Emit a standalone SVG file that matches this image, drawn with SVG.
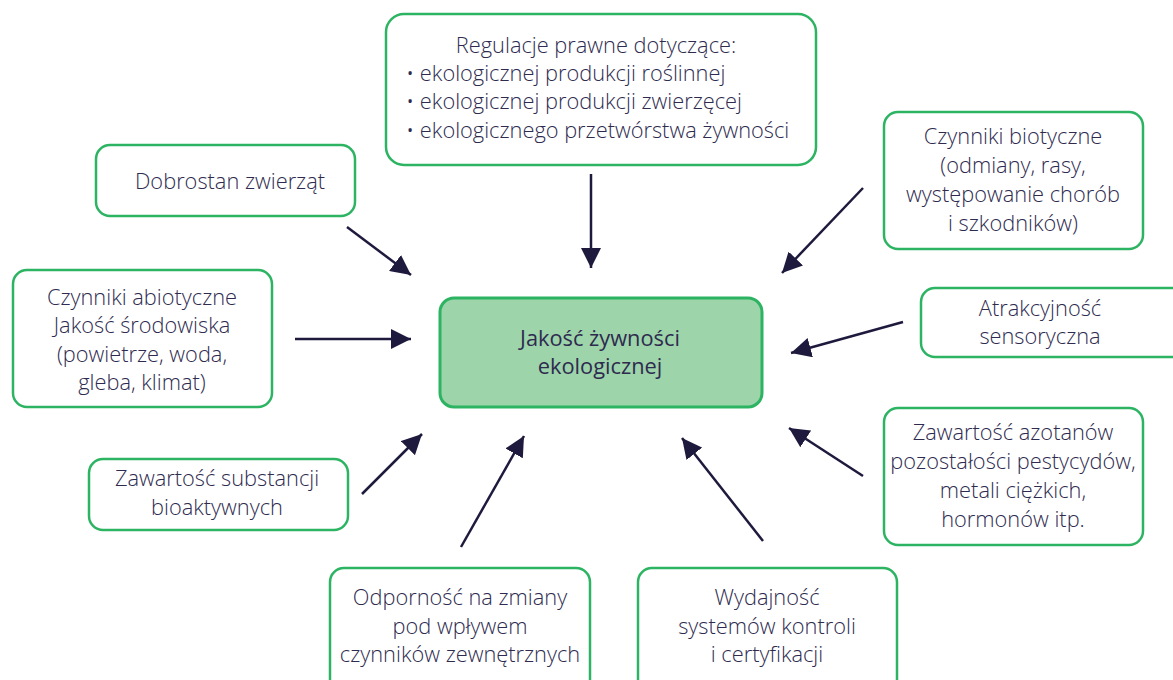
<svg xmlns="http://www.w3.org/2000/svg" width="1173" height="680" viewBox="0 0 1173 680">
<defs>
<marker id="ah" viewBox="0 0 10 10" refX="10" refY="5" markerWidth="8" markerHeight="8" markerUnits="strokeWidth" orient="auto">
<path d="M0,0 L10,5 L0,10 z" fill="#1e1a3d"/>
</marker>
</defs>
<style>
.box{fill:#fff;stroke:#2db463;stroke-width:2.5}
.main{fill:#9dd4aa;stroke:#2db463;stroke-width:3}
text{font-family:"Open Sans","Noto Sans",sans-serif;font-size:21.8px;font-weight:300;fill:#2e2b4f;text-anchor:middle}
.m{font-size:21.8px;font-weight:400}
.l{text-anchor:start}
.c line{stroke:#1e1a3d;stroke-width:2.5;marker-end:url(#ah)}
</style>
<rect width="1173" height="680" fill="#fff"/>
<g id="n-regulacje">
<rect class="box" x="386" y="14" width="430" height="151" rx="18"/>
<text x="596" y="53">Regulacje prawne dotyczące:</text>
<text class="l" x="406" y="81">• ekologicznej produkcji roślinnej</text>
<text class="l" x="406" y="109">• ekologicznej produkcji zwierzęcej</text>
<text class="l" x="406" y="138">• ekologicznego przetwórstwa żywności</text>
</g>
<g id="n-dobrostan">
<rect class="box" x="96" y="145" width="259" height="71" rx="14"/>
<text x="230" y="189">Dobrostan zwierząt</text>
</g>
<g id="n-biotyczne">
<rect class="box" x="884" y="112" width="259" height="137" rx="14"/>
<text x="1013" y="144">Czynniki biotyczne</text>
<text x="1013" y="173">(odmiany, rasy,</text>
<text x="1013" y="202">występowanie chorób</text>
<text x="1013" y="231">i szkodników)</text>
</g>
<g id="n-abiotyczne">
<rect class="box" x="13" y="270" width="259" height="137" rx="14"/>
<text x="142" y="305">Czynniki abiotyczne</text>
<text x="142" y="333">Jakość środowiska</text>
<text x="142" y="362">(powietrze, woda,</text>
<text x="142" y="390">gleba, klimat)</text>
</g>
<g id="n-center">
<rect class="main" x="440" y="298" width="322" height="109" rx="14"/>
<text class="m" x="600" y="346">Jakość żywności</text>
<text class="m" x="600" y="374">ekologicznej</text>
</g>
<g id="n-atrakcyjnosc">
<rect class="box" x="921" y="288" width="270" height="69" rx="14"/>
<text x="1040" y="316">Atrakcyjność</text>
<text x="1040" y="344">sensoryczna</text>
</g>
<g id="n-bioaktywne">
<rect class="box" x="89" y="459" width="259" height="71" rx="14"/>
<text x="217" y="486">Zawartość substancji</text>
<text x="217" y="515">bioaktywnych</text>
</g>
<g id="n-azotany">
<rect class="box" x="884" y="408" width="259" height="137" rx="14"/>
<text x="1013" y="440">Zawartość azotanów</text>
<text x="1013" y="469">pozostałości pestycydów,</text>
<text x="1013" y="498">metali ciężkich,</text>
<text x="1013" y="527">hormonów itp.</text>
</g>
<g id="n-odpornosc">
<rect class="box" x="330" y="568" width="260" height="130" rx="14"/>
<text x="460" y="605">Odporność na zmiany</text>
<text x="460" y="634">pod wpływem</text>
<text x="460" y="662">czynników zewnętrznych</text>
</g>
<g id="n-wydajnosc">
<rect class="box" x="638" y="568" width="259" height="130" rx="14"/>
<text x="767" y="605">Wydajność</text>
<text x="767" y="634">systemów kontroli</text>
<text x="767" y="662">i certyfikacji</text>
</g>
<g id="connectors" class="c">
<line x1="591" y1="174" x2="591" y2="268"/>
<line x1="347" y1="227" x2="411" y2="275"/>
<line x1="863" y1="188" x2="782" y2="273"/>
<line x1="295" y1="339" x2="411" y2="339"/>
<line x1="903" y1="322" x2="791" y2="353"/>
<line x1="362" y1="494" x2="422" y2="434"/>
<line x1="461" y1="547" x2="524" y2="436"/>
<line x1="763" y1="541" x2="682" y2="438"/>
<line x1="863" y1="476" x2="789" y2="428"/>
</g>
</svg>
